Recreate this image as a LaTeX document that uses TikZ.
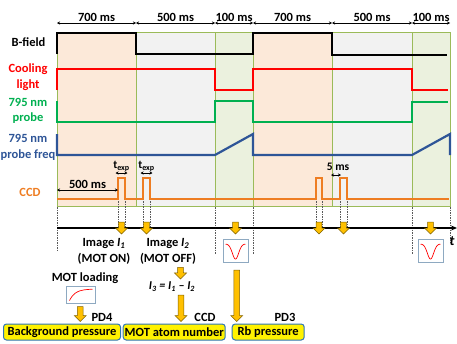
\documentclass[tikz,border=0pt]{standalone}
\usepackage{fontspec}
\setmainfont{Carlito}
\usepackage{xcolor}
\usepackage{tikz}
\usetikzlibrary{arrows.meta,calc}
\definecolor{tpeach}{HTML}{FCE9D9}
\definecolor{tgray}{HTML}{F2F2F2}
\definecolor{tgreenbg}{HTML}{EBF1DE}
\definecolor{tframe}{HTML}{9BBB59}
\definecolor{tred}{HTML}{FF0000}
\definecolor{tgreen}{HTML}{00B050}
\definecolor{tblue}{HTML}{2E5597}
\definecolor{torange}{HTML}{EE7D22}
\definecolor{tgold}{HTML}{FFC000}
\definecolor{tbrown}{HTML}{7F6000}
\definecolor{tedge}{HTML}{2E75B6}
\definecolor{tplot}{HTML}{8EA9C1}
\newcommand{\fatarrow}[2]{%
  \draw[fat] let \p1=#1, \p2=#2 in
    (\x1-2.8pt,\y1) -- (\x1-2.8pt,\y2+6pt) -- (\x1-6pt,\y2+6pt) -- (\x1,\y2)
    -- (\x1+6pt,\y2+6pt) -- (\x1+2.8pt,\y2+6pt) -- (\x1+2.8pt,\y1) -- cycle;}

\begin{document}
\begin{tikzpicture}[x=1pt,y=-1pt,
  lab/.style={font=\bfseries\fontsize{12.5}{15.5}\selectfont,align=center,inner sep=1pt},
  small/.style={font=\bfseries\fontsize{11.5}{13}\selectfont,inner sep=1pt},
  sig/.style={line width=2.2pt},
  span/.style={{Stealth[length=3pt,width=3pt]}-{Stealth[length=3pt,width=3pt]},line width=0.8pt},
  guide/.style={gray!70!black,line width=0.5pt,dash pattern=on 1.5pt off 1pt},
  fat/.style={fill=tgold,draw=tbrown,line width=0.5pt},
  box/.style={lab,draw=tedge,fill=yellow,line width=1pt,rounded corners=3pt,minimum height=16pt,inner sep=0pt},
  plotbox/.style={draw=tplot,fill=white,line width=0.8pt,minimum width=25pt,minimum height=23.5pt}]
  \useasboundingbox (0,0) rectangle (457,343);
  \fill[tpeach]   (57,32)  rectangle (136,206);
  \fill[tgray]    (136,32) rectangle (215,206);
  \fill[tgreenbg] (215,32) rectangle (253,206);
  \fill[tpeach]   (253,32) rectangle (332,206);
  \fill[tgray]    (332,32) rectangle (412,206);
  \fill[tgreenbg] (412,32) rectangle (450,206);
  \draw[tframe,line width=0.8pt] (57,32) rectangle (450,206);
  \draw[tframe,line width=0.8pt] (136,32) -- (136,206) (215,32) -- (215,206) (253,32) -- (253,206)
    (332,32) -- (332,206) (412,32) -- (412,206);

  \coordinate (t0) at (57,23);
  \coordinate (t1) at (136,23);
  \coordinate (t2) at (215,23);
  \coordinate (t3) at (253,23);
  \coordinate (t4) at (332,23);
  \coordinate (t5) at (412,23);
  \coordinate (t6) at (450,23);
  \draw[span] (t0) -- node[lab,above] (s1) {700 ms} (t1);
  \draw[span] (t1) -- node[lab,above] (s2) {500 ms} (t2);
  \draw[span] (t2) -- node[lab,above] (s3) {100 ms} (t3);
  \draw[span] (t3) -- node[lab,above] (s4) {700 ms} (t4);
  \draw[span] (t4) -- node[lab,above] (s5) {500 ms} (t5);
  \draw[span] (t5) -- node[lab,above] (s6) {100 ms} (t6);

  \node[lab] (bfield) at (28.5,42) {B-field};
  \node[lab,text=tred] (cool) at (28,77) {Cooling\\light};
  \node[lab,text=tgreen] (probe) at (28,111) {795 nm\\probe};
  \node[lab,text=tblue] (freq) at (28,147.5) {795 nm\\probe freq};
  \node[lab,text=torange] (ccd) at (30,192) {CCD};

  \draw[sig,black] (57,54) -- (57,33) -- (136,33) -- (136,54) -- (253,54) -- (253,33) -- (332,33) -- (332,55) -- (447,55);
  \draw[sig,tred] (57,90) -- (57,69) -- (215,69) -- (215,90) -- (253,90) -- (253,69) -- (412,69) -- (412,90) -- (448,90);
  \draw[sig,tgreen] (57,101) -- (57,122) -- (215,122) -- (215,101) -- (253,101) -- (253,122) -- (412,122) -- (412,102) -- (448,102);
  \draw[sig,tblue] (57,134) -- (57,155) -- (215,155) -- (253,134) -- (253,155) -- (412,155) -- (450,134) -- (450,155);
  \draw[sig,torange] (57,199) -- (118,199) -- (118,178) -- (125,178) -- (125,199) -- (143,199) -- (143,178) -- (150,178) -- (150,199)
    -- (316,199) -- (316,178) -- (322,178) -- (322,199) -- (340,199) -- (340,178) -- (347,178) -- (347,199) -- (449,199);

  \draw[span] (57,190) -- node[lab,above] (w500) {500 ms} (118,190);
  \draw[span] (115.5,173) -- node[small,above] (te1) {t\textsubscript{exp}} (127.5,173);
  \draw[span] (140.5,173) -- node[small,above] (te2) {t\textsubscript{exp}} (152.5,173);
  \draw[span] (331,175) -- (341,175);
  \node[small] (w5) at (338,167) {5 ms};

  \draw[guide] (118,201) -- (118,228) (125,201) -- (125,228) (143,201) -- (143,228) (150,201) -- (150,228)
    (316,201) -- (316,228) (322,201) -- (322,228) (340,201) -- (340,228) (347,201) -- (347,228);
  \draw[guide] (57,207) -- (57,250) (215,207) -- (215,254) (253,207) -- (253,254) (412,207) -- (412,254) (450,207) -- (450,243);

  \draw[-{Stealth[length=6pt,width=5pt]},line width=1.1pt] (57,228) -- (457,228);
  \node[font=\bfseries\itshape\fontsize{14}{16}\selectfont,inner sep=0pt] (taxis) at (452,241) {t};

  \fatarrow{(121.5,222)}{(121.5,234)}
  \fatarrow{(146.5,222)}{(146.5,234)}
  \fatarrow{(235.5,222)}{(235.5,234)}
  \fatarrow{(319,222)}{(319,234)}
  \fatarrow{(343.5,222)}{(343.5,234)}
  \fatarrow{(430.5,222)}{(430.5,234)}

  \node[lab] (img1) at (104,251.5) {Image \textit{I}\textsubscript{\textit{1}}\\(MOT ON)};
  \node[lab] (img2) at (168,251.5) {Image \textit{I}\textsubscript{\textit{2}}\\(MOT OFF)};
  \node[lab,font=\bfseries\itshape\fontsize{12}{14}\selectfont] (i3) at (172,287) {I\textsubscript{3} = I\textsubscript{1} -- I\textsubscript{2}};
  \node[lab] (load) at (85,278) {MOT loading};
  \node[plotbox,minimum width=29pt,minimum height=17pt] (loadbox) at (81.2,294.7) {};
  \draw[tred,line width=0.7pt] plot[domain=0:1,samples=30,smooth] ({69.5+23*\x},{300.5-11.5*(1-exp(-4*\x))});
  \node[plotbox] (dip1) at (235.5,251) {};
  \draw[tred,line width=0.7pt] plot[domain=-1:1,samples=41,smooth] ({235.5+10*\x},{244+15*exp(-5*\x*\x)});
  \node[plotbox] (dip2) at (430.5,251) {};
  \draw[tred,line width=0.7pt] plot[domain=-1:1,samples=41,smooth] ({430.5+10*\x},{244+15*exp(-5*\x*\x)});

  \node[box,minimum width=117pt] (bgp) at (62,332) {Background pressure};
  \node[box,minimum width=102pt] (atoms) at (174.2,332) {MOT atom number};
  \node[box,minimum width=72pt] (rbp) at (268.2,332) {Rb pressure};
  \node[lab] (pd4) at (102,317) {PD4};
  \node[lab] (ccdlab) at (205,317) {CCD};
  \node[lab] (pd3) at (285,317) {PD3};

  \fatarrow{($(loadbox.south)+(-1,3)$)}{($(bgp.north)+(0,-2)$)}
  \fatarrow{($(img2.south)+(12.5,2)$)}{($(i3.north)+(0,-2)$)}
  \fatarrow{($(i3.south)+(9,2)$)}{($(atoms.north)+(0,-2)$)}
  \fatarrow{($(dip1.south)+(1.2,7)$)}{($(rbp.north)+(0,-2)$)}
\end{tikzpicture}
\end{document}
